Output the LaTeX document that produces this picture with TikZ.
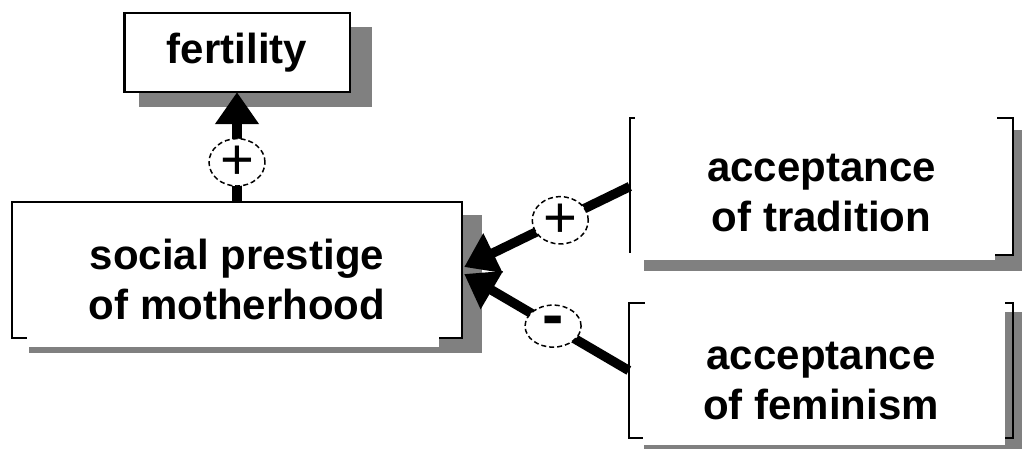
\documentclass[tikz,border=0pt]{standalone}
\usepackage{fontspec}
\setmainfont{Liberation Sans}
\usetikzlibrary{arrows.meta,calc,shapes.geometric,backgrounds}
\definecolor{ShadeGray}{HTML}{808080}
\newcommand{\toppad}[1]{\rule{0pt}{#1pt}}

\begin{document}
\begin{tikzpicture}[x=1pt,y=-1pt,>={Triangle[length=32pt,width=42pt]}]
  \tikzset{factor/.style={inner sep=0pt,align=center,
    font=\bfseries\fontsize{42}{50}\selectfont},
    frame/.style={draw=black,line width=2.4pt},
    shade/.style={fill=ShadeGray},
    link/.style={->,line width=9.5pt},
    sign/.style={ellipse,draw,fill=white,line width=1.5pt,
      dash pattern=on 5pt off 3pt,minimum width=56pt,minimum height=42pt,inner sep=0pt}}
  \useasboundingbox (0,0) rectangle (1022,448);
  \node[factor,minimum width=225pt,minimum height=79pt] (fert) at (237,52.5) {fertility};
  \node[factor,minimum width=450pt,minimum height=136pt] (soc) at (237,270)
    {\toppad{50}social prestige\\of motherhood};
  \node[factor,minimum width=383pt,minimum height=137pt] (trad) at (821.5,186.5)
    {\toppad{40}acceptance\\of tradition};
  \node[factor,minimum width=384pt,minimum height=135pt] (fem) at (821,370.5)
    {\toppad{48}acceptance\\of feminism};
  \begin{scope}[on background layer]
    % fertility
    \fill[shade] ($(fert.north west)+(15,14)$) rectangle ($(fert.south east)+(22,15)$);
    \draw[frame,fill=white] (fert.north west) rectangle (fert.south east);
    % social prestige
    \fill[shade] ($(soc.north west)+(17,13)$) rectangle ($(soc.south east)+(20,15)$);
    \draw[frame,fill=white] (soc.north west) rectangle (soc.south east);
    \fill[white] ($(soc.south west)+(15,-20)$) rectangle ($(soc.south east)+(-23,9)$);
    % tradition
    \fill[shade] ($(trad.north west)+(14,12)$) rectangle ($(trad.south east)+(9,16)$);
    \fill[white] (trad.north west) rectangle ($(trad.south east)+(-18,5)$);
    \fill[white] (trad.north west) rectangle (trad.south east);
    \draw[frame] ($(trad.north west)+(5,0)$) -- (trad.north west) -- ($(trad.south west)+(0,-2)$);
    \draw[frame] ($(trad.north east)+(-16,0)$) -- (trad.north east) -- (trad.south east)
      -- ($(trad.south east)+(-18,0)$);
    % feminism
    \fill[shade] ($(fem.north west)+(15,9)$) rectangle ($(fem.south east)+(9,12)$);
    \fill[white] (fem.north west) rectangle ($(fem.south east)+(-8,7)$);
    \draw[frame] ($(fem.north west)+(16,0)$) -- (fem.north west) -- (fem.south west)
      -- ($(fem.south west)+(14,0)$);
    \draw[frame] ($(fem.north east)+(-8,0)$) -- (fem.north east) -- (fem.south east)
      -- ($(fem.south east)+(-8,0)$);
  \end{scope}
  \draw[link] (soc) -- node[sign,pos=0.36,font=\fontsize{58}{58}\selectfont] (pfert) {+} (fert);
  \draw[link] (trad.west) -- node[sign,pos=0.42,font=\fontsize{58}{58}\selectfont] (ptrad) {+}
    ($(soc.east)+(2,-3)$);
  \draw[link] (fem.west) -- node[sign,pos=0.46,font=\bfseries\fontsize{64}{64}\selectfont] (pfem) {-}
    ($(soc.east)+(2,4)$);
\end{tikzpicture}
\end{document}
